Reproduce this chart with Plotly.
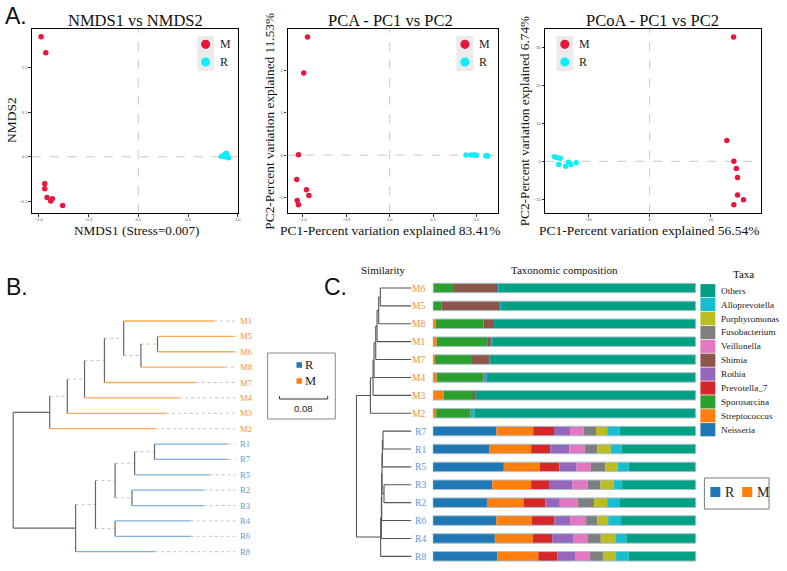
import plotly.graph_objects as go

W, H = 787, 571
def fx(px): return px / W
def fy(py): return 1 - py / H

SERIF = "Liberation Serif"
SANS = "Liberation Sans"
RED = "#E8163C"
CYAN = "#10EEF8"

# ---------------- Panel A data ----------------
nmds_m_x = [-0.977, -0.93, -0.94, -0.94, -0.917, -0.88, -0.864, -0.76]
nmds_m_y = [1.347, 1.168, -0.302, -0.358, -0.455, -0.496, -0.47, -0.545]
nmds_r_x = [0.834, 0.853, 0.873, 0.883, 0.893, 0.907, 0.876, 0.886]
nmds_r_y = [0.004, 0.011, 0.034, 0.019, 0.004, -0.011, 0.002, 0.041]

pca_m_x = [-0.946, -0.989, -1.05, -1.07, -0.958, -0.93, -1.065, -1.05]
pca_m_y = [2.789, 1.9375, 0.008, -0.578, -0.82, -0.953, -1.07, -1.17]
pca_r_x = [0.878, 0.935, 0.97, 0.985, 1.0, 1.107, 1.12, 1.13]
pca_r_y = [0.0, 0.0, 0.0, -0.005, -0.005, -0.015, -0.015, -0.02]

pcoa_m_x = [27.4, 25.2, 27.5, 28.3, 28.7, 28.7, 30.65, 27.5]
pcoa_m_y = [32.7, 5.48, 0.0, -1.91, -4.26, -8.87, -10.1, -11.4]
pcoa_r_x = [-31.1, -30.2, -29.2, -29.7, -26.5, -27.4, -25.7, -24.0]
pcoa_r_y = [1.22, 0.96, 0.78, -0.87, -0.26, -1.3, -0.87, -0.35]

nmds_xticks = [-1.0, -0.5, 0.0, 0.5, 1.0]
nmds_yticks = [-0.5, 0.0, 0.5, 1.0]
pca_xticks = [-1.0, -0.5, 0.0, 0.5, 1.0]
pca_yticks = [-1, 0, 1, 2]
pcoa_xticks = [-20, 0, 20]
pcoa_yticks = [-10, 0, 10, 20, 30]

# ---------------- Panel B data (tree) ----------------
b_leaves = ["M1", "M5", "M6", "M8", "M7", "M4", "M3", "M2",
            "R1", "R7", "R5", "R2", "R3", "R4", "R6", "R8"]
b_leaf_depth = [0.3338, 0.3697, 0.3697, 0.352, 0.3034, 0.2759, 0.2538, 0.2361,
                0.3575, 0.3575, 0.3266, 0.3167, 0.3167, 0.2952, 0.2952, 0.2361]
b_merges = [
    ("M5", "M6", 0.2400),   # n0
    ("n0", "M8", 0.2124),   # n1
    ("M1", "n1", 0.1837),   # n2
    ("n2", "M7", 0.1517),   # n3
    ("n3", "M4", 0.1186),   # n4
    ("n4", "M3", 0.0899),   # n5
    ("n5", "M2", 0.0607),   # n6
    ("R1", "R7", 0.2350),   # n7
    ("n7", "R5", 0.2019),   # n8
    ("R2", "R3", 0.1975),   # n9
    ("n8", "n9", 0.1694),   # n10
    ("R4", "R6", 0.1694),   # n11
    ("n10", "n11", 0.1368), # n12
    ("n12", "R8", 0.1037),  # n13
    ("n6", "n13", 0.0),     # n14 root
]

# ---------------- Panel C data ----------------
c_leaves = ["M6", "M5", "M8", "M1", "M7", "M4", "M3", "M2",
            "R7", "R1", "R5", "R3", "R2", "R6", "R4", "R8"]
c_leaf_depth = [1.0] * 16
c_merges = [
    ("M6", "M5", 0.436),
    ("n0", "M8", 0.406),
    ("n1", "M1", 0.376),
    ("n2", "M7", 0.352),
    ("n3", "M4", 0.321),
    ("n4", "M3", 0.303),
    ("n5", "M2", 0.255),
    ("R7", "R1", 0.485),
    ("n7", "R5", 0.473),
    ("R3", "R2", 0.503),
    ("n8", "n9", 0.467),
    ("n10", "R6", 0.461),
    ("n11", "R4", 0.455),
    ("n12", "R8", 0.442),
    ("n6", "n13", 0.0),
]

taxa = ["Neisseria", "Streptococcus", "Sporosarcina", "Prevotella_7", "Rothia",
        "Shimia", "Veillonella", "Fusobacterium", "Porphyromonas", "Alloprevotella", "Others"]
taxa_colors = ["#1F77B4", "#FF7F0E", "#2CA02C", "#D62728", "#9467BD",
               "#8C564B", "#E377C2", "#7F7F7F", "#BCBD22", "#17BECF", "#00A083"]
# rows in order of c_leaves; columns in order of taxa (percent)
comp = {
    "M6": [0, 0.5, 7.2, 0, 0, 17.2, 0, 0, 0, 0.3, 74.8],
    "M5": [0, 0.2, 3.2, 0, 0, 22.3, 0, 0, 0, 0.3, 74.0],
    "M8": [0, 1.1, 18.2, 0, 0, 4.0, 0, 0, 0, 0, 76.7],
    "M1": [0, 1.5, 19.3, 0, 0.2, 1.4, 0, 0, 0, 0.2, 77.4],
    "M7": [0, 0.8, 14.1, 0, 0, 6.6, 0, 0, 0, 0, 78.5],
    "M4": [0, 1.5, 17.7, 0, 1.0, 0, 0, 0, 0, 0.4, 79.4],
    "M3": [0, 4.2, 11.3, 0, 0, 0.6, 0, 0, 0, 0, 83.9],
    "M2": [0, 1.3, 13.1, 0, 0.8, 0, 0, 0, 0, 0.6, 84.2],
    "R7": [24.2, 14.0, 0, 7.9, 6.1, 0, 5.2, 4.7, 4.2, 4.7, 29.0],
    "R1": [21.4, 16.0, 0, 7.3, 7.2, 0, 5.9, 4.7, 5.2, 4.2, 28.1],
    "R5": [27.0, 13.7, 0, 7.4, 6.6, 0, 5.4, 5.5, 4.7, 4.2, 25.5],
    "R3": [22.6, 14.8, 0, 6.8, 8.8, 0, 5.9, 4.9, 4.9, 3.3, 28.0],
    "R2": [20.6, 13.9, 0, 8.3, 5.5, 0, 6.8, 6.2, 5.0, 4.9, 28.8],
    "R6": [24.1, 13.6, 0, 8.6, 5.9, 0, 6.1, 4.2, 4.2, 4.9, 28.4],
    "R4": [23.6, 14.5, 0, 7.3, 7.9, 0, 5.7, 4.9, 5.5, 4.2, 26.4],
    "R8": [24.6, 15.5, 0, 7.2, 6.8, 0, 5.7, 4.9, 5.0, 4.8, 25.5],
}

M_LABEL = "#F39035"
R_LABEL = "#5A9BD4"
M_BRANCH = "#FFAA55"
R_BRANCH = "#7DB0DC"

fig = go.Figure()

# ---------------- Panel A scatter ----------------
for xs, ys, c, ax in [
    (nmds_m_x, nmds_m_y, RED, ""), (nmds_r_x, nmds_r_y, CYAN, ""),
    (pca_m_x, pca_m_y, RED, "2"), (pca_r_x, pca_r_y, CYAN, "2"),
    (pcoa_m_x, pcoa_m_y, RED, "3"), (pcoa_r_x, pcoa_r_y, CYAN, "3"),
]:
    fig.add_trace(go.Scatter(x=xs, y=ys, mode="markers", showlegend=False,
                             marker=dict(color=c, size=5.5, line=dict(width=0)),
                             xaxis="x" + ax, yaxis="y" + ax, hoverinfo="skip"))

def box_axis(dom_px, rng, ticks, fmt, anchor):
    return dict(domain=dom_px, range=rng, tickvals=ticks, tickformat=fmt,
                showline=True, mirror=True, linecolor="black", linewidth=1.3,
                ticks="outside", ticklen=2.5, tickwidth=0.8, tickcolor="#333",
                tickfont=dict(size=4, color="#555", family=SANS),
                showgrid=False, zeroline=False, anchor=anchor)

ydom = [fy(213), fy(29)]
layout = dict(
    xaxis=box_axis([fx(32), fx(239)], [-1.07, 1.0], nmds_xticks, ".1f", "y"),
    yaxis=box_axis(ydom, [-0.63, 1.433], nmds_yticks, ".1f", "x"),
    xaxis2=box_axis([fx(289), fx(501)], [-1.176, 1.252], pca_xticks, ".1f", "y2"),
    yaxis2=box_axis(ydom, [-1.367, 2.977], pca_yticks, "d", "x2"),
    xaxis3=box_axis([fx(548), fx(765)], [-34.1, 36.4], pcoa_xticks, "d", "y3"),
    yaxis3=box_axis(ydom, [-13.6, 34.8], pcoa_yticks, "d", "x3"),
)

shapes = []
annotations = []
for ax in ["", "2", "3"]:
    shapes.append(dict(type="line", xref="x" + ax, yref="y" + ax + " domain", x0=0, x1=0, y0=0, y1=1,
                       line=dict(color="#C8C8C8", width=1, dash="dash"), layer="below"))
    shapes.append(dict(type="line", xref="x" + ax + " domain", yref="y" + ax, x0=0, x1=1, y0=0, y1=0,
                       line=dict(color="#C8C8C8", width=1, dash="dash"), layer="below"))

# inset legends (marker x, label x)
for mx, lx in [(206.7, 219), (467.3, 479.5), (567.7, 580.3)]:
    shapes.append(dict(type="rect", xref="paper", yref="paper", x0=fx(mx - 8.5), x1=fx(mx + 8.5),
                       y0=fy(71), y1=fy(36), fillcolor="#EBEBEB", line=dict(width=0)))
    for cy, col, lab in [(44.3, RED, "M"), (62, CYAN, "R")]:
        shapes.append(dict(type="circle", xref="paper", yref="paper", x0=fx(mx - 4.6), x1=fx(mx + 4.6),
                           y0=fy(cy + 4.6), y1=fy(cy - 4.6), fillcolor=col, line=dict(width=0)))
        annotations.append(dict(text=lab, x=fx(lx), y=fy(cy), xref="paper", yref="paper",
                                xanchor="left", yanchor="middle", showarrow=False,
                                font=dict(family=SERIF, size=12, color="#222")))

def ann(text, x, y, size, family=SERIF, angle=0, color="#111", xanchor="center"):
    annotations.append(dict(text=text, x=fx(x), y=fy(y), xref="paper", yref="paper", showarrow=False,
                            xanchor=xanchor, yanchor="middle", textangle=angle,
                            font=dict(family=family, size=size, color=color)))

ann("A.", 3, 16, 23, SANS, xanchor="left")
ann("B.", 4, 287, 23, SANS, xanchor="left")
ann("C.", 324, 287, 23, SANS, xanchor="left")
ann("NMDS1 vs NMDS2", 136, 20, 16.5)
ann("PCA - PC1 vs PC2", 392, 20, 16.5)
ann("PCoA - PC1 vs PC2", 656, 20, 16.5)
ann("NMDS1 (Stress=0.007)", 136.7, 230, 13.2)
ann("PC1-Percent variation explained 83.41%", 391.7, 230, 13.5)
ann("PC1-Percent variation explained 56.54%", 652.5, 230, 13.5)
ann("NMDS2", 12, 120, 13.5, angle=-90)
ann("PC2-Percent variation explained 11.53%", 270, 121, 13.3, angle=-90)
ann("PC2-Percent variation explained 6.74%", 527, 121, 13.3, angle=-90)


# ---------------- tree helper ----------------
def tree_segments(leaves, leaf_depth, merges):
    pos = {name: (float(i), leaf_depth[i]) for i, name in enumerate(leaves)}
    segs = []  # (kind, x0, x1, y0, y1, childname)
    for k, (a, b, d) in enumerate(merges):
        ya, xa = pos[a]
        yb, xb = pos[b]
        segs.append(("v", d, d, ya, yb, None))
        segs.append(("h", d, xa, ya, ya, a))
        segs.append(("h", d, xb, yb, yb, b))
        pos["n%d" % k] = ((ya + yb) / 2, d)
    return segs, pos

def add_lines(xs, ys, color, width, dash, xa, ya):
    fig.add_trace(go.Scatter(x=xs, y=ys, mode="lines", showlegend=False, hoverinfo="skip",
                             line=dict(color=color, width=width, dash=dash),
                             xaxis=xa, yaxis=ya))

# ---------------- Panel B tree ----------------
segs, posb = tree_segments(b_leaves, b_leaf_depth, b_merges)
root_children = set(b_merges[-1][:2])
maxd = max(b_leaf_depth)
groups = {"v": ([], []), "hroot": ([], []), "hint": ([], []), "M": ([], []), "R": ([], []), "ext": ([], [])}
for kind, x0, x1, y0, y1, ch in segs:
    if kind == "v":
        g = "v"
    elif ch in b_leaves:
        g = ch[0]
    elif ch in root_children:
        g = "hroot"
    else:
        g = "hint"
    groups[g][0].extend([x0, x1, None])
    groups[g][1].extend([y0, y1, None])
for i, name in enumerate(b_leaves):
    if b_leaf_depth[i] < maxd:
        groups["ext"][0].extend([b_leaf_depth[i], maxd, None])
        groups["ext"][1].extend([i, i, None])

add_lines(*groups["ext"], "#C4C4C4", 1, "dot", "x4", "y4")
add_lines(*groups["hint"], "#C4C4C4", 1, "dot", "x4", "y4")
add_lines(*groups["hroot"], "#666666", 1.2, "solid", "x4", "y4")
add_lines(*groups["v"], "#666666", 1.2, "solid", "x4", "y4")
add_lines(*groups["M"], M_BRANCH, 1.3, "solid", "x4", "y4")
add_lines(*groups["R"], R_BRANCH, 1.3, "solid", "x4", "y4")

B_PX = 604.3
layout["xaxis4"] = dict(domain=[0, fx(340)], range=[-13.3 / B_PX, (340 - 13.3) / B_PX],
                        visible=False, anchor="y4")
layout["yaxis4"] = dict(domain=[fy(562), fy(310)], range=[15.67, -0.715], visible=False, anchor="x4")
for i, name in enumerate(b_leaves):
    annotations.append(dict(text=name, x=(239.3 - 13.3) / B_PX, y=i, xref="x4", yref="y4",
                            xanchor="left", yanchor="middle", showarrow=False,
                            font=dict(family=SERIF, size=8.6,
                                      color=M_LABEL if name[0] == "M" else R_LABEL)))

# legend box B
shapes.append(dict(type="rect", xref="paper", yref="paper", x0=fx(269), x1=fx(337), y0=fy(419), y1=fy(353),
                   line=dict(color="#8A8A8A", width=1), fillcolor="rgba(0,0,0,0)"))
for cy, col, lab in [(365, "#1F77B4", "R"), (381, "#FF7F0E", "M")]:
    shapes.append(dict(type="rect", xref="paper", yref="paper", x0=fx(298), x1=fx(303.5),
                       y0=fy(cy + 2.8), y1=fy(cy - 2.8), fillcolor=col, line=dict(width=0)))
    ann(lab, 305, cy, 12.5, color="#222", xanchor="left")
sb0 = (281 - 13.3) / B_PX
sb_len = 0.08
shapes.append(dict(type="line", xref="x4", yref="paper", x0=sb0, x1=sb0 + sb_len, y0=fy(399), y1=fy(399),
                   line=dict(color="#333", width=1)))
for xx in [sb0, sb0 + sb_len]:
    shapes.append(dict(type="line", xref="x4", yref="paper", x0=xx, x1=xx, y0=fy(399), y1=fy(396),
                       line=dict(color="#333", width=1)))
ann("0.08", 305, 408.5, 9.5, SANS, color="#222")

# ---------------- Panel C tree ----------------
segs_c, posc = tree_segments(c_leaves, c_leaf_depth, c_merges)
cx, cy_ = [], []
for kind, x0, x1, y0, y1, ch in segs_c:
    cx.extend([x0, x1, None])
    cy_.extend([y0, y1, None])
add_lines(cx, cy_, "#555555", 1.1, "solid", "x5", "y5")
C_PX = 55.0
layout["xaxis5"] = dict(domain=[fx(350), fx(433)], range=[(350 - 358.3) / C_PX, (433 - 358.3) / C_PX],
                        visible=False, anchor="y5")
layout["yaxis5"] = dict(domain=[fy(566), fy(278)], range=[15.54, -0.559], visible=False, anchor="x5")
for i, name in enumerate(c_leaves):
    annotations.append(dict(text=name, x=(430.5 - 358.3) / C_PX, y=i, xref="x5", yref="y5",
                            xanchor="right", yanchor="middle", showarrow=False,
                            font=dict(family=SERIF, size=9.6,
                                      color=M_LABEL if name[0] == "M" else R_LABEL)))

# bars
rows = list(range(len(c_leaves)))
base = [0.0] * len(c_leaves)
for j, t in enumerate(taxa):
    vals = [comp[s][j] for s in c_leaves]
    fig.add_trace(go.Bar(x=vals, y=rows, base=list(base), orientation="h", width=0.53,
                         marker=dict(color=taxa_colors[j], line=dict(width=0)),
                         showlegend=False, hoverinfo="skip", xaxis="x6", yaxis="y5"))
    base = [b + v for b, v in zip(base, vals)]
fig.add_trace(go.Bar(x=base, y=rows, base=[0] * len(rows), orientation="h", width=0.53,
                     marker=dict(color="rgba(0,0,0,0)", line=dict(width=1, color="#A8BFD0")),
                     showlegend=False, hoverinfo="skip", xaxis="x6", yaxis="y5"))
layout["xaxis6"] = dict(domain=[fx(435), fx(699.3)], range=[0, 100], visible=False, anchor="y5")

ann("Similarity", 385, 270, 11)
ann("Taxonomic composition", 567, 270, 11)
ann("Taxa", 747, 274, 11)

# taxa legend
for i, t in enumerate(reversed(taxa)):
    col = taxa_colors[len(taxa) - 1 - i]
    yc = 290.7 + 13.9 * i
    shapes.append(dict(type="rect", xref="paper", yref="paper", x0=fx(704), x1=fx(719),
                       y0=fy(yc + 6.6), y1=fy(yc - 6.6), fillcolor=col, line=dict(width=0)))
    ann(t, 722.5, yc, 9.2, color="#222", xanchor="left")

# R / M legend box in C
shapes.append(dict(type="rect", xref="paper", yref="paper", x0=fx(708), x1=fx(773), y0=fy(509), y1=fy(478),
                   line=dict(color="#777", width=1), fillcolor="rgba(0,0,0,0)"))
for x0, col, lab in [(714, "#1F77B4", "R"), (746, "#FF7F0E", "M")]:
    shapes.append(dict(type="rect", xref="paper", yref="paper", x0=fx(x0), x1=fx(x0 + 10),
                       y0=fy(497), y1=fy(487), fillcolor=col, line=dict(width=0)))
    ann(lab, x0 + 12.5, 492.5, 14, color="#222", xanchor="left")

fig.update_layout(width=W, height=H, margin=dict(l=0, r=0, t=0, b=0), autosize=False,
                  paper_bgcolor="white", plot_bgcolor="white", barmode="overlay",
                  showlegend=False, shapes=shapes, annotations=annotations, **layout)

fig.write_html("out.html", config={"displayModeBar": False},
               post_script="document.body.style.margin='0px';")
